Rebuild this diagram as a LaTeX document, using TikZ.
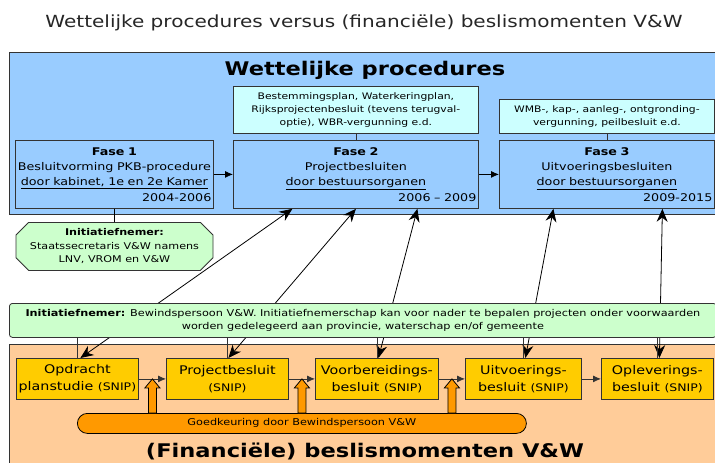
\documentclass[tikz,border=0pt]{standalone}
\usepackage{fontspec}
\setmainfont[FakeStretch=1.2]{DejaVu Sans}
\usepackage{tikz}
\usetikzlibrary{arrows.meta,shapes.misc,calc}
\definecolor{wblue}{HTML}{99CCFF}
\definecolor{wcyan}{HTML}{CCFFFF}
\definecolor{wgreen}{HTML}{CCFFCC}
\definecolor{fpeach}{HTML}{FFCC99}
\definecolor{fyellow}{HTML}{FFCC00}
\definecolor{forange}{HTML}{FF9900}
\definecolor{edge}{HTML}{333333}
\newcommand{\stap}{-{Latex[length=8pt,width=7pt]}}
\newcommand{\koppel}{{Stealth[length=13pt,width=11pt]}-{Stealth[length=13pt,width=11pt]}}
\newcommand{\snipfont}{\fontsize{10.4}{17}\selectfont}

\begin{document}
\begin{tikzpicture}[x=1pt,y=-1pt,line width=.8pt,
  vlak/.style={draw=edge},
  lijn/.style={draw=black},
  fasebox/.style={draw=edge,fill=wblue,anchor=north west,inner xsep=2pt,inner ysep=0pt,
    minimum height=68pt,align=center,font=\fontsize{10.6}{15.3}\selectfont},
  extrabox/.style={draw=edge,fill=wcyan,anchor=north west,inner sep=0pt,
    align=center,font=\fontsize{9}{13}\selectfont},
  octbox/.style={draw=edge,fill=wgreen,chamfered rectangle,chamfered rectangle xsep=9pt,
    anchor=north,inner sep=0pt,align=center,font=\fontsize{9.3}{13.5}\selectfont},
  breedbox/.style={draw=edge,fill=wgreen,rounded corners=3pt,anchor=north west,inner sep=0pt,
    align=center,font=\fontsize{9.4}{13}\selectfont},
  besluit/.style={draw=edge,fill=fyellow,anchor=north west,inner sep=0pt,minimum height=41pt,
    align=center,font=\fontsize{11.9}{17}\selectfont},
  balk/.style={draw=black,fill=forange,rounded corners=10pt,anchor=north west,inner sep=0pt,
    font=\fontsize{9.4}{13}\selectfont},
  blokpijl/.style={draw=black,fill=forange},
  kop/.style={font=\fontsize{18.8}{22}\selectfont\bfseries}]
\useasboundingbox (0,0) rectangle (715,463);
\node[font=\fontsize{16.7}{20}\selectfont,text=black!85] (titel) at (364,23)
  {Wettelijke procedures versus (financiële) beslismomenten V\&W};

%wettelijke procedures
\draw[vlak,fill=wblue] (9,52) rectangle (722,214);
\node[kop] (wetkop) at (365,70) {Wettelijke procedures};
\node[fasebox,minimum width=198pt,text width=194pt] (fase1) at (15,140)
  {\textbf{Fase 1}\\Besluitvorming PKB-procedure\\\underline{door kabinet, 1e en 2e Kamer}\\\mbox{}\hfill 2004-2006};
\node[fasebox,minimum width=245pt,text width=241pt] (fase2) at (233,140)
  {\textbf{Fase 2}\\Projectbesluiten\\\underline{door bestuursorganen}\\\mbox{}\hfill 2006 -- 2009};
\node[fasebox,minimum width=215pt,text width=211pt] (fase3) at (499,140)
  {\textbf{Fase 3}\\Uitvoeringsbesluiten\\\underline{door bestuursorganen}\\\mbox{}\hfill 2009-2015};
\node[extrabox,minimum width=245pt,minimum height=47pt] (extra2) at (233,86)
  {Bestemmingsplan, Waterkeringplan,\\Rijksprojectenbesluit (tevens terugval-\\optie), WBR-vergunning e.d.};
\node[extrabox,minimum width=215pt,minimum height=34pt] (extra3) at (499,99)
  {WMB-, kap-, aanleg-, ontgronding-\\vergunning, peilbesluit e.d.};
\draw[vlak] (extra2.south) -- (fase2.north);
\draw[vlak] (extra3.south) -- (fase3.north);
\draw[lijn,\stap] (fase1) -- (fase2);
\draw[lijn,\stap] (fase2) -- (fase3);
\node[octbox,minimum width=197pt,minimum height=48pt] (inik) at (114.5,222)
  {\textbf{Initiatiefnemer:}\\Staatssecretaris V\&W namens\\LNV, VROM en V\&W};
\draw[lijn] (fase1.south) -- (inik.north);

%financiele beslismomenten
\draw[vlak,fill=fpeach] (9,344) rectangle (722,470);
\node[kop] (finkop) at (365,451) {(Financiële) beslismomenten V\&W};
\node[besluit,minimum width=122pt] (opdr) at (16,358) {Opdracht\\planstudie {\snipfont(SNIP)}};
\node[besluit,minimum width=122pt] (proj) at (166,358) {Projectbesluit\\{\snipfont(SNIP)}};
\node[besluit,minimum width=123pt] (voorb) at (315,358) {Voorbereidings-\\besluit {\snipfont(SNIP)}};
\node[besluit,minimum width=116pt] (uitv) at (465,358) {Uitvoerings-\\besluit {\snipfont(SNIP)}};
\node[besluit,minimum width=112pt] (oplev) at (601,358) {Opleverings-\\besluit {\snipfont(SNIP)}};
\foreach \a/\b in {opdr/proj,proj/voorb,voorb/uitv,uitv/oplev}
  \draw[vlak,\stap] (\a) -- (\b);
\node[balk,minimum width=449pt,minimum height=20pt] (balk) at (77,413)
  {Goedkeuring door Bewindspersoon V\&W};
\foreach \a/\b in {opdr/proj,proj/voorb,voorb/uitv}
  \draw[blokpijl] let \p1=($(\a.east)!.5!(\b.west)$), \p2=(balk.north) in
    (\x1-4pt,\y2) -- (\x1-4pt,\y1-9pt) -- (\x1-7.5pt,\y1-9pt) -- (\x1,\y1)
    -- (\x1+7.5pt,\y1-9pt) -- (\x1+4pt,\y1-9pt) -- (\x1+4pt,\y2) -- cycle;

%koppelingen
\draw[lijn,\koppel] ([xshift=3pt]opdr.north) -- ([xshift=-63.5pt]fase2.south);
\draw[lijn,\koppel] ([xshift=1pt]proj.north) -- (fase2.south);
\draw[lijn,\koppel] ([xshift=1.5pt]voorb.north) -- ([xshift=61.5pt]fase2.south);
\draw[lijn,\koppel] ([xshift=2pt]uitv.north) -- ([xshift=-53.5pt]fase3.south);
\draw[lijn,\koppel] ([xshift=2pt]oplev.north) -- ([xshift=55.5pt]fase3.south);
\node[breedbox,minimum width=707pt,minimum height=34pt] (inib) at (9,303)
  {\textbf{Initiatiefnemer:} Bewindspersoon V\&W. Initiatiefnemerschap kan voor nader te bepalen projecten onder voorwaarden\\worden gedelegeerd aan provincie, waterschap en/of gemeente};
\foreach \b in {opdr,proj,voorb,uitv,oplev}
  \draw[vlak] (inib.south -| \b.north) -- (\b.north);
\end{tikzpicture}
\end{document}
